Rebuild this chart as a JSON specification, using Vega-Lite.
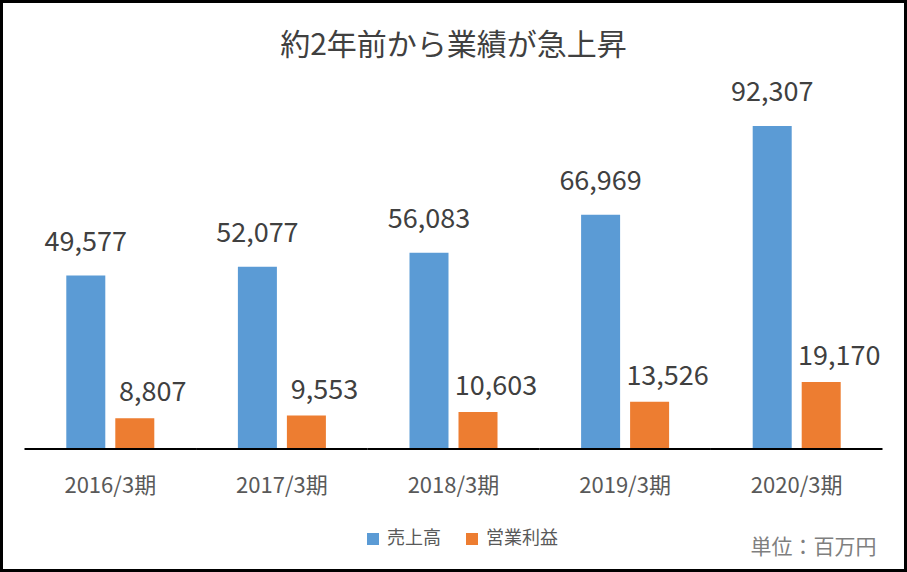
{
  "$schema": "https://vega.github.io/schema/vega-lite/v6.json",
  "width": 904,
  "height": 569,
  "autosize": {"type": "none"},
  "padding": {"left": 1.5, "top": 1.5, "right": 1.5, "bottom": 1.5},
  "background": "white",
  "config": {
    "view": {"stroke": "black", "strokeWidth": 3},
    "font": "Noto Sans CJK JP"
  },
  "title": {
    "text": "約2年前から業績が急上昇",
    "fontSize": 30,
    "fontWeight": "normal",
    "color": "#404040",
    "anchor": "middle",
    "frame": "group",
    "baseline": "alphabetic",
    "offset": -83
  },
  "data": {
    "values": [
      {"period": "2016/3期", "series": "売上高", "value": 49577},
      {"period": "2016/3期", "series": "営業利益", "value": 8807},
      {"period": "2017/3期", "series": "売上高", "value": 52077},
      {"period": "2017/3期", "series": "営業利益", "value": 9553},
      {"period": "2018/3期", "series": "売上高", "value": 56083},
      {"period": "2018/3期", "series": "営業利益", "value": 10603},
      {"period": "2019/3期", "series": "売上高", "value": 66969},
      {"period": "2019/3期", "series": "営業利益", "value": 13526},
      {"period": "2020/3期", "series": "売上高", "value": 92307},
      {"period": "2020/3期", "series": "営業利益", "value": 19170}
    ]
  },
  "encoding": {
    "x": {
      "field": "period",
      "type": "nominal",
      "sort": null,
      "scale": {"paddingInner": 0, "paddingOuter": 0.134},
      "axis": {
        "orient": "bottom",
        "offset": -121.5,
        "domain": false,
        "ticks": false,
        "grid": false,
        "labelAngle": 0,
        "labelPadding": 43,
        "labelBaseline": "alphabetic",
        "labelFontSize": 22,
        "labelColor": "#595959",
        "title": "単位：百万円",
        "titleFontSize": 21,
        "titleFontWeight": "normal",
        "titleColor": "#7F7F7F",
        "titleX": 874.5,
        "titleY": 104,
        "titleAlign": "right",
        "titleBaseline": "alphabetic",
        "titleAnchor": "end"
      }
    }
  },
  "layer": [
    {
      "mark": {"type": "bar"},
      "encoding": {
        "xOffset": {
          "field": "series",
          "type": "nominal",
          "sort": ["売上高", "営業利益"],
          "scale": {"paddingInner": 0.204, "paddingOuter": 0.853}
        },
        "y": {
          "field": "value",
          "type": "quantitative",
          "stack": null,
          "scale": {"domain": [-34722, 127886], "nice": false, "zero": false},
          "axis": null
        },
        "y2": {"datum": 0},
        "color": {
          "field": "series",
          "type": "nominal",
          "sort": ["売上高", "営業利益"],
          "scale": {"domain": ["売上高", "営業利益"], "range": ["#5B9BD5", "#ED7D31"]},
          "legend": {
            "orient": "none",
            "legendX": 362.5,
            "legendY": 528.5,
            "direction": "horizontal",
            "title": null,
            "padding": 0,
            "symbolType": "square",
            "symbolSize": 144,
            "symbolStrokeWidth": 0,
            "symbolOpacity": 1,
            "labelFontSize": 18,
            "labelColor": "#595959",
            "labelOffset": 5,
            "columnPadding": 22
          }
        }
      }
    },
    {
      "transform": [{"filter": "datum.series === '売上高'"}],
      "mark": {"type": "text", "baseline": "alphabetic", "dy": -25, "fontSize": 27, "color": "#404040"},
      "encoding": {
        "xOffset": {"field": "series", "type": "nominal", "sort": ["売上高", "営業利益"]},
        "y": {"field": "value", "type": "quantitative", "stack": null},
        "text": {"field": "value", "type": "quantitative", "format": ","}
      }
    },
    {
      "transform": [{"filter": "datum.series === '営業利益'"}],
      "mark": {"type": "text", "baseline": "alphabetic", "dy": -17, "dx": 18, "fontSize": 27, "color": "#404040"},
      "encoding": {
        "xOffset": {"field": "series", "type": "nominal", "sort": ["売上高", "営業利益"]},
        "y": {"field": "value", "type": "quantitative", "stack": null},
        "text": {"field": "value", "type": "quantitative", "format": ","}
      }
    },
    {
      "transform": [{"filter": "datum.series === '売上高'"}],
      "mark": {"type": "bar", "color": "black"},
      "encoding": {
        "y": {"datum": 286, "type": "quantitative"},
        "y2": {"datum": -286}
      }
    }
  ]
}
